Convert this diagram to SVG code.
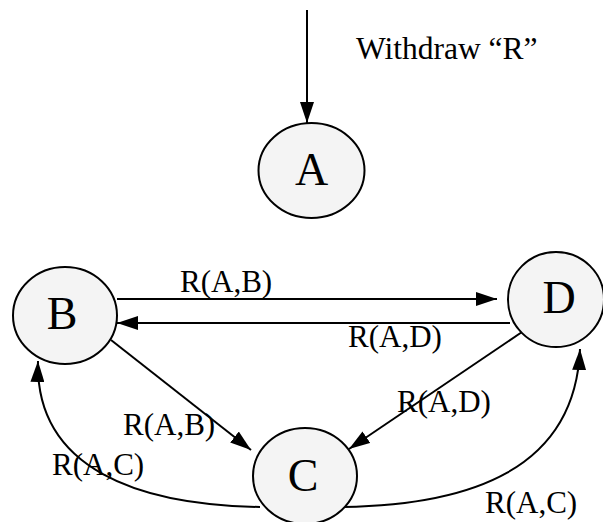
<svg xmlns="http://www.w3.org/2000/svg" width="603" height="522" viewBox="0 0 603 522">
  <style>
    .node ellipse { fill: #f4f4f4; stroke: #000; stroke-width: 2; }
    .node text { font-family: "Liberation Serif", "Times New Roman", serif; font-size: 46px; fill: #000; text-anchor: middle; }
    .edge { fill: none; stroke: #000; stroke-width: 2; marker-end: url(#arrow); }
    .label { font-family: "Liberation Serif", "Times New Roman", serif; font-size: 31px; fill: #000; }
  </style>
  <defs>
    <marker id="arrow" markerUnits="userSpaceOnUse" markerWidth="22" markerHeight="14" viewBox="0 0 22 14" refX="21" refY="7" orient="auto">
      <path d="M0,0 L21,7 L0,14 Z" fill="#000"/>
    </marker>
  </defs>
  <rect width="603" height="522" fill="#fff"/>

  <g id="connectors">
    <line class="edge" x1="307" y1="10" x2="307" y2="123"/>
    <line class="edge" x1="117" y1="299" x2="497" y2="299"/>
    <line class="edge" x1="510" y1="323" x2="117" y2="323"/>
    <line class="edge" x1="111" y1="340" x2="251" y2="450"/>
    <line class="edge" x1="522" y1="332" x2="349" y2="449"/>
    <path class="edge" d="M260,507 C140,505 35,470 38,361"/>
    <path class="edge" d="M343,507 C470,505 575,470 580,349"/>
  </g>

  <g id="labels">
    <text class="label" x="356" y="59" style="font-size:31.5px">Withdraw “R”</text>
    <text class="label" x="180" y="292">R(A,B)</text>
    <text class="label" x="348" y="347">R(A,D)</text>
    <text class="label" x="123" y="435">R(A,B)</text>
    <text class="label" x="397" y="412">R(A,D)</text>
    <text class="label" x="52" y="475">R(A,C)</text>
    <text class="label" x="485" y="513">R(A,C)</text>
  </g>

  <g id="node-A" class="node">
    <ellipse cx="311.5" cy="170.5" rx="53" ry="47.5"/>
    <text x="311.5" y="185">A</text>
  </g>
  <g id="node-B" class="node">
    <ellipse cx="65" cy="315.5" rx="52" ry="48.5"/>
    <text x="62" y="329">B</text>
  </g>
  <g id="node-D" class="node">
    <ellipse cx="556" cy="299.5" rx="48" ry="47.5"/>
    <text x="559" y="313">D</text>
  </g>
  <g id="node-C" class="node">
    <ellipse cx="305" cy="476" rx="52" ry="48"/>
    <text x="303" y="491">C</text>
  </g>
</svg>
